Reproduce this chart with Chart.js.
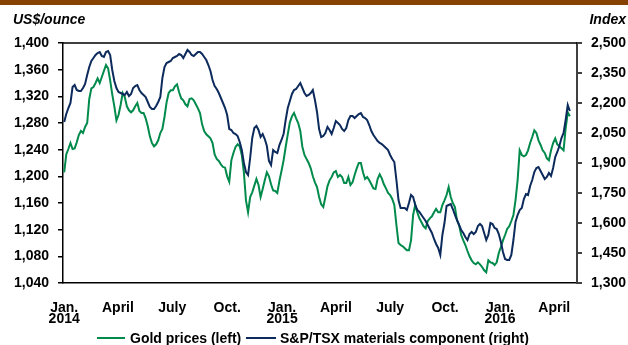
<!DOCTYPE html>
<html>
<head>
<meta charset="utf-8">
<script src="https://cdn.jsdelivr.net/npm/chart.js@4/dist/chart.umd.min.js"></script>
<style>
    html, body { margin: 0; padding: 0; background: #ffffff; }
    #wrap { width: 628px; height: 345px; }
</style>
</head>
<body>
<div id="wrap"><canvas id="goldChart" width="628" height="345"></canvas></div>
<script>
// 半週ごとのデータ（2014年1月〜2016年4月、3.5日間隔）
const STEP_DAYS = 3.5;

// 四半期の目盛り（2014-01-01からの日数）
const quarterDays = [0, 90, 181, 273, 365, 455, 546, 638, 730, 821];
const quarterLabels = [['Jan.', '2014'], 'April', 'July', 'Oct.', ['Jan.', '2015'],
    'April', 'July', 'Oct.', ['Jan.', '2016'], 'April'];

// 金価格 (US$/ounce, 左軸)
const goldPrices = [
    1206, 1233, 1241, 1250, 1241, 1242, 1251, 1262, 1268, 1265,
    1274, 1280, 1316, 1332, 1334, 1340, 1347, 1340, 1349, 1358,
    1367, 1362, 1344, 1323, 1305, 1284, 1292, 1307, 1325, 1319,
    1305, 1299, 1296, 1299, 1305, 1310, 1298, 1295, 1295, 1287,
    1275, 1260, 1250, 1245, 1248, 1254, 1265, 1271, 1289, 1311,
    1325, 1329, 1329, 1335, 1338, 1326, 1317, 1314, 1308, 1305,
    1316, 1317, 1314, 1308, 1302, 1295, 1278, 1268, 1263, 1260,
    1257, 1250, 1233, 1226, 1223, 1218, 1214, 1213, 1200, 1192,
    1224, 1235, 1244, 1248, 1245, 1232, 1206, 1164, 1146, 1169,
    1176, 1186, 1196, 1187, 1169, 1181, 1194, 1206, 1200, 1188,
    1179, 1178, 1175, 1193, 1208, 1224, 1244, 1263, 1281, 1290,
    1295, 1287, 1280, 1268, 1244, 1232, 1226, 1220, 1212, 1200,
    1191, 1184, 1169, 1158, 1154, 1169, 1185, 1194, 1199, 1206,
    1208, 1199, 1202, 1199, 1190, 1190, 1199, 1187, 1191, 1202,
    1212, 1220, 1220, 1206, 1196, 1199, 1194, 1188, 1182, 1181,
    1196, 1203, 1197, 1188, 1182, 1175, 1172, 1166, 1157, 1127,
    1100, 1097, 1095, 1092, 1089, 1089, 1104, 1142, 1157, 1146,
    1137, 1131, 1125, 1122, 1133, 1137, 1140, 1146, 1151, 1146,
    1146, 1157, 1164, 1172, 1184, 1169, 1160, 1154, 1134, 1127,
    1112, 1104, 1097, 1088, 1080, 1074, 1070, 1068, 1071, 1068,
    1064, 1059, 1056, 1074, 1071, 1070, 1067, 1071, 1085, 1094,
    1104, 1112, 1121, 1125, 1133, 1142, 1164, 1194, 1239, 1232,
    1230, 1232, 1239, 1250, 1259, 1269, 1265, 1254, 1247, 1239,
    1235, 1227, 1224, 1239, 1250, 1257, 1248, 1245, 1242, 1239,
    1272, 1296, 1290
];

// S&P/TSX 素材セクター指数 (右軸)
const materialsIndex = [
    2105, 2145, 2175, 2200, 2280, 2290, 2265, 2260, 2260, 2275,
    2295, 2340, 2380, 2410, 2425, 2440, 2450, 2455, 2435, 2430,
    2455, 2460, 2440, 2365, 2310, 2275, 2255, 2250, 2245, 2240,
    2255, 2235, 2245, 2275, 2285, 2290, 2265, 2250, 2240, 2230,
    2205, 2180, 2170, 2170, 2185, 2205, 2230, 2325, 2380, 2400,
    2405, 2410, 2425, 2430, 2435, 2445, 2440, 2425, 2445, 2465,
    2455, 2440, 2435, 2445, 2455, 2455, 2445, 2430, 2415, 2390,
    2360, 2315, 2285, 2270, 2250, 2225, 2200, 2175, 2140, 2070,
    2065, 2050, 2045, 2035, 2005, 1965, 1900, 1855, 1840, 1925,
    2025, 2075, 2085, 2065, 2030, 2045, 2020, 1985, 1910, 1890,
    1965, 1955, 1950, 1990, 2015, 2045, 2115, 2175, 2210, 2245,
    2265, 2270, 2285, 2300, 2275, 2250, 2235, 2240, 2250, 2265,
    2215, 2155, 2070, 2030, 2035, 2050, 2080, 2065, 2045, 2075,
    2110, 2100, 2090, 2070, 2060, 2075, 2115, 2135, 2135, 2125,
    2135, 2145, 2150, 2130, 2125, 2115, 2090, 2060, 2040, 2025,
    2010, 2000, 1995, 1985, 1975, 1965, 1940, 1920, 1905, 1815,
    1715, 1675, 1675, 1675, 1665, 1700, 1740, 1730, 1690, 1665,
    1655, 1640, 1625, 1610, 1590, 1570, 1550, 1520, 1495, 1475,
    1440, 1540, 1600, 1685, 1690, 1695, 1670, 1640, 1615, 1590,
    1565, 1550, 1530, 1515, 1545, 1555, 1545, 1555, 1585, 1595,
    1585, 1550, 1515, 1540, 1600, 1595, 1575, 1570, 1545, 1505,
    1455, 1420, 1415, 1415, 1440, 1515, 1605, 1640, 1665, 1675,
    1720, 1745, 1740, 1785, 1815, 1855, 1875, 1880, 1860, 1840,
    1820, 1830, 1850, 1835, 1875, 1930, 1955, 1985, 2025, 2050,
    2115, 2190, 2160
];

const GOLD_COLOR = '#008a4b';
const TSX_COLOR = '#0c2a5b';
const FONT_FAMILY = '"Liberation Sans", Arial, sans-serif';

const toPoints = values => values.map((v, i) => ({ x: i * STEP_DAYS, y: v }));
const fmt = v => Number(v).toLocaleString('en-US');

// 見出し・凡例・上枠線を描くプラグイン
const decorations = {
    id: 'decorations',
    beforeDraw(chart) {
        const ctx = chart.ctx;
        ctx.save();
        ctx.fillStyle = '#854200';
        ctx.fillRect(0, 0, chart.width, 5);
        ctx.restore();
    },
    afterDraw(chart) {
        const ctx = chart.ctx;
        const area = chart.chartArea;
        ctx.save();

        // 上枠線
        ctx.strokeStyle = '#000000';
        ctx.lineWidth = 1.5;
        ctx.beginPath();
        ctx.moveTo(area.left, area.top);
        ctx.lineTo(area.right, area.top);
        ctx.stroke();

        // 軸タイトル
        ctx.fillStyle = '#000000';
        ctx.font = 'italic bold 14px ' + FONT_FAMILY;
        ctx.textBaseline = 'middle';
        ctx.textAlign = 'left';
        ctx.fillText('US$/ounce', 13, 20);
        ctx.textAlign = 'right';
        ctx.fillText('Index', 626, 20);

        // 凡例
        const items = [
            { text: 'Gold prices (left)', color: GOLD_COLOR, x0: 97, x1: 125, tx: 130 },
            { text: 'S&P/TSX materials component (right)', color: TSX_COLOR, x0: 246, x1: 276, tx: 280 }
        ];
        const y = 338;
        ctx.font = 'bold 14px ' + FONT_FAMILY;
        ctx.textAlign = 'left';
        items.forEach(it => {
            ctx.strokeStyle = it.color;
            ctx.lineWidth = 2;
            ctx.beginPath();
            ctx.moveTo(it.x0, y);
            ctx.lineTo(it.x1, y);
            ctx.stroke();
            ctx.fillStyle = '#000000';
            ctx.fillText(it.text, it.tx, y + 1);
        });
        ctx.restore();
    }
};

new Chart(document.getElementById('goldChart'), {
    type: 'line',
    data: {
        datasets: [{
            label: 'Gold prices (left)',
            data: toPoints(goldPrices),
            borderColor: GOLD_COLOR,
            borderWidth: 2,
            pointRadius: 0,
            yAxisID: 'y',
            order: 2
        }, {
            label: 'S&P/TSX materials component (right)',
            data: toPoints(materialsIndex),
            borderColor: TSX_COLOR,
            borderWidth: 2,
            pointRadius: 0,
            yAxisID: 'y1',
            order: 1
        }]
    },
    options: {
        responsive: false,
        animation: false,
        devicePixelRatio: 1,
        layout: { padding: { top: 43, left: 0, right: 0, bottom: 0 } },
        plugins: {
            legend: { display: false },
            tooltip: { enabled: false }
        },
        scales: {
            x: {
                type: 'linear',
                min: -2,
                max: 859,
                afterFit: scale => { scale.height = 62; },
                afterBuildTicks: scale => {
                    scale.ticks = quarterDays.map(v => ({ value: v }));
                },
                grid: { display: false, drawTicks: false },
                border: { display: true, color: '#000000', width: 1.5 },
                ticks: {
                    autoSkip: false,
                    maxRotation: 0,
                    padding: 20,
                    color: '#000000',
                    font: { family: FONT_FAMILY, size: 14, weight: 'bold', lineHeight: '11px' },
                    callback: value => {
                        const i = quarterDays.indexOf(value);
                        return i >= 0 ? quarterLabels[i] : '';
                    }
                }
            },
            y: {
                position: 'left',
                min: 1040,
                max: 1400,
                afterFit: scale => { scale.width = 63; },
                grid: { drawOnChartArea: false, drawTicks: true, tickLength: 5, color: '#000000', lineWidth: 1.5 },
                border: { display: true, color: '#000000', width: 1.5 },
                ticks: {
                    stepSize: 40,
                    padding: 9,
                    color: '#000000',
                    font: { family: FONT_FAMILY, size: 14, weight: 'bold' },
                    callback: v => fmt(v)
                }
            },
            y1: {
                position: 'right',
                min: 1300,
                max: 2500,
                afterFit: scale => { scale.width = 51; },
                grid: { drawOnChartArea: false, drawTicks: true, tickLength: 5, color: '#404040', lineWidth: 2 },
                border: { display: true, color: '#404040', width: 2 },
                ticks: {
                    stepSize: 150,
                    padding: 9,
                    color: '#000000',
                    font: { family: FONT_FAMILY, size: 14, weight: 'bold' },
                    callback: v => fmt(v)
                }
            }
        }
    },
    plugins: [decorations]
});
</script>
</body>
</html>
